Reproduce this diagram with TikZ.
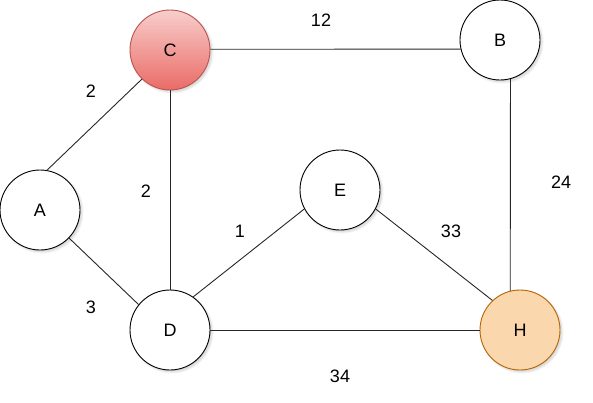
\documentclass[tikz,border=0pt]{standalone}
\usepackage{fontspec}
\setmainfont{Liberation Sans}
\usetikzlibrary{shadows.blur}
\definecolor{cfillTop}{HTML}{F8CECC}
\definecolor{cfillBot}{HTML}{EA6B66}
\definecolor{cstroke}{HTML}{B85450}
\definecolor{hfill}{HTML}{FAD7AC}
\definecolor{hstroke}{HTML}{B46504}
\tikzset{
  vert/.style={circle, draw=black, fill=white, line width=0.9pt, minimum size=80pt, inner sep=0pt,
    font=\fontsize{18}{21}\selectfont,
    blur shadow={shadow xshift=2pt, shadow yshift=-2pt, shadow blur steps=6, shadow opacity=18}},
  wlabel/.style={font=\fontsize{18}{21}\selectfont, inner sep=0pt},
  edge/.style={line width=0.9pt, draw=black!85}
}
\begin{document}
\begin{tikzpicture}[x=1pt, y=-1pt]
\useasboundingbox (0,0) rectangle (593,402);
\node[vert, draw=cstroke, top color=cfillTop, bottom color=cfillBot] (C) at (170,50) {C};
\node[vert] (B) at (500,40) {B};
\node[vert] (A) at (40,210) {A};
\node[vert] (E) at (340,190) {E};
\node[vert] (D) at (170,330) {D};
\node[vert, draw=hstroke, fill=hfill] (H) at (520,330) {H};

\draw[edge] (C.1) -- (B.193);
\draw[edge] (A.80) -- (C.226);
\draw[edge] (C.-90) -- (D.90);
\draw[edge] (B.-75.5) -- (H.104.5);
\draw[edge] (A.-44) -- (D.141);
\draw[edge] (D.55) -- (E.208);
\draw[edge] (E.-28) -- (H.133);
\draw[edge] (D.0) -- (H.180);

\node[wlabel] (l12) at (321,20) {12};
\node[wlabel] (l2a) at (91,91) {2};
\node[wlabel] (l2b) at (146,191) {2};
\node[wlabel] (l24) at (561,182) {24};
\node[wlabel] (l1) at (240,231) {1};
\node[wlabel] (l33) at (451,231) {33};
\node[wlabel] (l3) at (91,307) {3};
\node[wlabel] (l34) at (340,376) {34};
\end{tikzpicture}
\end{document}
